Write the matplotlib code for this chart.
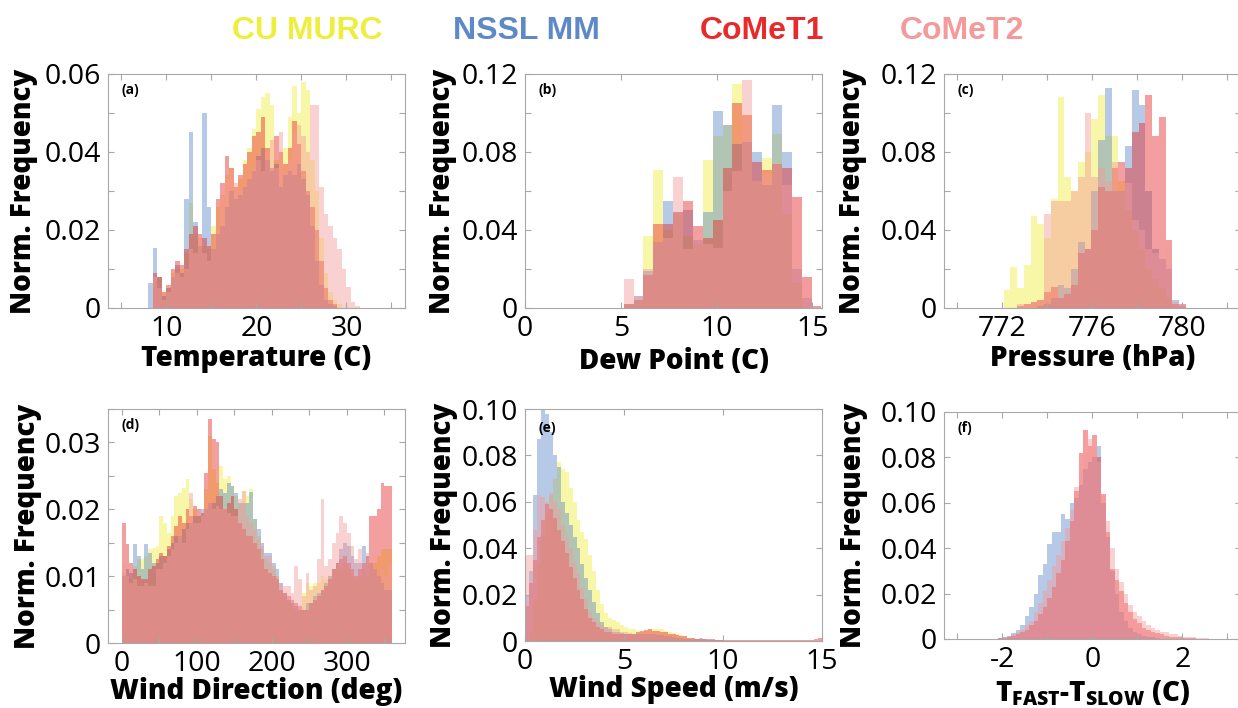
import matplotlib
matplotlib.use('Agg')
import matplotlib.pyplot as plt
import numpy as np

plt.rcParams['font.family'] = ['Open Sans', 'DejaVu Sans']
plt.rcParams['axes.unicode_minus'] = False
plt.rcParams['mathtext.fontset'] = 'custom'
plt.rcParams['mathtext.bf'] = 'Open Sans:heavy'
plt.rcParams['mathtext.rm'] = 'Open Sans'

# series names and colours
names = ['CU MURC', 'NSSL MM', 'CoMeT1', 'CoMeT2']
colors = ['#eeee3c', '#5e88c8', '#e82a2a', '#f49a9a']

# (a) temperature, 0.5 C bins starting at 8.0
temp_start, temp_w = 8.0, 0.5
temp_cu = [0.000, 0.007, 0.008, 0.004, 0.005, 0.009, 0.010, 0.010,
           0.014, 0.027, 0.019, 0.018, 0.016, 0.015, 0.021, 0.026,
           0.029, 0.034, 0.036, 0.031, 0.033, 0.038, 0.041, 0.046,
           0.051, 0.054, 0.055, 0.052, 0.038, 0.040, 0.041, 0.049,
           0.057, 0.050, 0.058, 0.056, 0.038, 0.030, 0.018, 0.009,
           0.004, 0.002, 0.001, 0, 0, 0, 0, 0]
temp_nssl = [0.0063, 0.0153, 0.008, 0.003, 0.005, 0.008, 0.011, 0.009,
             0.028, 0.045, 0.022, 0.016, 0.050, 0.026, 0.015, 0.019,
             0.021, 0.026, 0.030, 0.028, 0.029, 0.031, 0.033, 0.035,
             0.039, 0.041, 0.038, 0.035, 0.037, 0.031, 0.034, 0.035,
             0.034, 0.037, 0.033, 0.029, 0.021, 0.012, 0.006, 0.002,
             0.001, 0.0005, 0, 0, 0, 0, 0, 0]
temp_c1 = [0.000, 0.009, 0.008, 0.004, 0.006, 0.010, 0.012, 0.011,
           0.015, 0.019, 0.021, 0.019, 0.018, 0.016, 0.019, 0.028,
           0.032, 0.039, 0.036, 0.031, 0.034, 0.037, 0.040, 0.044,
           0.045, 0.049, 0.041, 0.036, 0.044, 0.040, 0.037, 0.041,
           0.048, 0.042, 0.035, 0.030, 0.026, 0.020, 0.012, 0.005,
           0.002, 0.001, 0, 0, 0, 0, 0, 0]
temp_c2 = [0.000, 0.008, 0.005, 0.002, 0.004, 0.008, 0.009, 0.008,
           0.010, 0.015, 0.014, 0.018, 0.014, 0.012, 0.015, 0.020,
           0.029, 0.033, 0.035, 0.032, 0.030, 0.031, 0.033, 0.036,
           0.038, 0.035, 0.040, 0.043, 0.036, 0.045, 0.035, 0.038,
           0.045, 0.047, 0.044, 0.040, 0.052, 0.052, 0.031, 0.024,
           0.021, 0.018, 0.015, 0.010, 0.0055, 0.0015, 0.0005, 0]

# (b) dew point
dew_start, dew_w = 5.15, 0.516
dew_cu = [0.002, 0.004, 0.037, 0.071, 0.040, 0.048, 0.037, 0.033, 0.076, 0.088,
          0.094, 0.115, 0.099, 0.065, 0.077, 0.089, 0.048, 0.013, 0, 0]
dew_nssl = [0.002, 0.006, 0.019, 0.034, 0.055, 0.049, 0.050, 0.035, 0.049, 0.101,
            0.094, 0.084, 0.085, 0.080, 0.063, 0.104, 0.080, 0.020, 0.005, 0]
dew_c1 = [0.002, 0.004, 0.017, 0.043, 0.043, 0.049, 0.055, 0.042, 0.036, 0.045,
          0.072, 0.105, 0.099, 0.075, 0.071, 0.074, 0.072, 0.057, 0.016, 0.001]
dew_c2 = [0.015, 0.006, 0.020, 0.034, 0.036, 0.067, 0.030, 0.035, 0.033, 0.031,
          0.060, 0.070, 0.117, 0.065, 0.068, 0.074, 0.063, 0.057, 0.016, 0.001]

# (c) pressure
pres_start, pres_w = 771.75, 0.3
pres_cu = [0, 0.009, 0.021, 0.010, 0.022, 0.047, 0.043, 0.036, 0.056, 0.108,
           0.067, 0.060, 0.075, 0.080, 0.097, 0.109, 0.088, 0.088, 0.065, 0.050,
           0.040, 0.030, 0.020, 0.015, 0.010, 0.005, 0, 0]
pres_nssl = [0, 0, 0, 0, 0, 0, 0.001, 0.002, 0.005, 0.012,
             0.010, 0.020, 0.034, 0.030, 0.060, 0.086, 0.113, 0.060, 0.060, 0.083,
             0.112, 0.104, 0.060, 0.030, 0.025, 0.020, 0.004, 0.001]
pres_c1 = [0, 0, 0, 0.001, 0.002, 0.003, 0.004, 0.008, 0.011, 0.005,
           0.007, 0.012, 0.028, 0.030, 0.040, 0.062, 0.060, 0.072, 0.075, 0.072,
           0.090, 0.095, 0.109, 0.088, 0.098, 0.035, 0.002, 0.002]
pres_c2 = [0, 0, 0, 0.002, 0.002, 0.003, 0.004, 0.048, 0.055, 0.055,
           0.055, 0.060, 0.067, 0.100, 0.067, 0.072, 0.065, 0.075, 0.060, 0.064,
           0.045, 0.040, 0.030, 0.028, 0.025, 0.030, 0.003, 0.001]

# (d) wind direction, 5 deg bins
wdir_start, wdir_w = 0.0, 5.0
wdir_cu = [0.0105, 0.010, 0.0095, 0.0115, 0.0125, 0.0125, 0.013, 0.014, 0.0142,
           0.0145, 0.019, 0.018, 0.0165, 0.019, 0.022, 0.0225, 0.0232, 0.0245,
           0.0215, 0.020, 0.019, 0.019, 0.023, 0.031, 0.026, 0.024, 0.0265,
           0.0245, 0.025, 0.0235, 0.022, 0.021, 0.0228, 0.022, 0.023, 0.0185,
           0.016, 0.014, 0.0125, 0.012, 0.011, 0.010, 0.008, 0.007, 0.006,
           0.0055, 0.005, 0.005, 0.0075, 0.009, 0.0085, 0.009, 0.009, 0.010,
           0.0095, 0.010, 0.011, 0.012, 0.011, 0.012, 0.011, 0.010, 0.0095,
           0.010, 0.011, 0.010, 0.012, 0.012, 0.013, 0.014, 0.014, 0.014]
wdir_nssl = [0.010, 0.011, 0.0105, 0.0148, 0.013, 0.011, 0.0148, 0.0135, 0.012,
             0.012, 0.013, 0.013, 0.014, 0.015, 0.016, 0.016, 0.017, 0.018,
             0.018, 0.019, 0.019, 0.020, 0.020, 0.021, 0.021, 0.022, 0.023,
             0.0225, 0.024, 0.0235, 0.0225, 0.021, 0.021, 0.021, 0.0226, 0.0185,
             0.017, 0.015, 0.0135, 0.0135, 0.012, 0.011, 0.009, 0.0075, 0.0065,
             0.006, 0.0055, 0.005, 0.005, 0.006, 0.006, 0.007, 0.0075, 0.008,
             0.009, 0.010, 0.011, 0.012, 0.014, 0.015, 0.0145, 0.013, 0.012,
             0.012, 0.0145, 0.013, 0.012, 0.011, 0.010, 0.009, 0.008, 0.008]
wdir_c1 = [0.018, 0.0148, 0.012, 0.011, 0.010, 0.0095, 0.0095, 0.011, 0.0115,
           0.0125, 0.0135, 0.013, 0.0145, 0.016, 0.0175, 0.019, 0.018, 0.020,
           0.019, 0.0205, 0.020, 0.0195, 0.0255, 0.0335, 0.0305, 0.030, 0.022,
           0.020, 0.021, 0.022, 0.020, 0.018, 0.017, 0.016, 0.016, 0.015,
           0.014, 0.0125, 0.011, 0.0105, 0.010, 0.0095, 0.008, 0.0075, 0.007,
           0.0065, 0.006, 0.0055, 0.005, 0.005, 0.006, 0.0065, 0.007, 0.008,
           0.0085, 0.0095, 0.011, 0.012, 0.0125, 0.013, 0.012, 0.011, 0.010,
           0.011, 0.012, 0.013, 0.019, 0.019, 0.020, 0.024, 0.0235, 0.0235]
wdir_c2 = [0.012, 0.010, 0.009, 0.0095, 0.0085, 0.0085, 0.009, 0.0085, 0.0085,
           0.011, 0.011, 0.012, 0.013, 0.014, 0.015, 0.016, 0.015, 0.017,
           0.0225, 0.018, 0.018, 0.019, 0.020, 0.021, 0.020, 0.0205, 0.020,
           0.020, 0.0195, 0.019, 0.019, 0.0215, 0.0228, 0.019, 0.018, 0.017,
           0.0155, 0.0145, 0.013, 0.013, 0.0115, 0.010, 0.009, 0.0085, 0.0085,
           0.0075, 0.0115, 0.0095, 0.007, 0.0105, 0.008, 0.0085, 0.0125, 0.0215,
           0.0115, 0.0125, 0.015, 0.0165, 0.019, 0.018, 0.0165, 0.0145, 0.0125,
           0.014, 0.012, 0.0135, 0.012, 0.011, 0.010, 0.011, 0.010, 0.012]

# (e) wind speed, 0.2 m/s bins
wspd_start, wspd_w = 0.0, 0.2
wspd_cu = [0.000, 0.004, 0.018, 0.033, 0.045, 0.055, 0.063, 0.070, 0.077, 0.074,
           0.073, 0.066, 0.060, 0.052, 0.047, 0.044, 0.037, 0.030, 0.022, 0.016,
           0.012, 0.010, 0.009, 0.008, 0.007, 0.006, 0.005, 0.005, 0.0045, 0.004,
           0.0045, 0.005, 0.005, 0.005, 0.005, 0.0045, 0.004, 0.0035, 0.003, 0.0025,
           0.002, 0.0015, 0.0012, 0.001, 0.0008, 0.0006, 0.0005, 0.0004, 0.0003, 0.0003]
wspd_nssl = [0.020, 0.030, 0.063, 0.087, 0.100, 0.098, 0.090, 0.080, 0.075, 0.060,
             0.055, 0.050, 0.045, 0.040, 0.033, 0.027, 0.022, 0.017, 0.012, 0.008,
             0.006, 0.005, 0.004, 0.004, 0.0035, 0.003, 0.003, 0.003, 0.003, 0.003,
             0.003, 0.003, 0.003, 0.0028, 0.0025, 0.0022, 0.002, 0.0018, 0.0015, 0.0012,
             0.001, 0.001, 0.0008, 0.0008, 0.0012, 0.0010, 0.0006, 0.0005, 0.0004, 0.0003]
wspd_c1 = [0.015, 0.025, 0.035, 0.045, 0.052, 0.059, 0.057, 0.053, 0.048, 0.043,
           0.038, 0.032, 0.027, 0.022, 0.018, 0.014, 0.010, 0.008, 0.006, 0.005,
           0.004, 0.004, 0.003, 0.003, 0.003, 0.003, 0.003, 0.0032, 0.0038, 0.0042,
           0.0048, 0.005, 0.0045, 0.0042, 0.004, 0.0038, 0.0032, 0.003, 0.0028, 0.0022,
           0.002, 0.0015, 0.0012, 0.001, 0.001, 0.0009, 0.0008, 0.0007, 0.0006, 0.0006,
           0.0005, 0.0005, 0.0005, 0.0004, 0.0004, 0.0004, 0.0004, 0.0003, 0.0004, 0.0003,
           0.0003, 0.0003, 0.0004, 0.0003, 0.0003, 0.0003, 0.0004, 0.0003, 0.0003, 0.0005,
           0.0004, 0.0005, 0.0006, 0.0009, 0.0012]
wspd_c2 = [0.037, 0.037, 0.048, 0.063, 0.062, 0.060, 0.064, 0.060, 0.057, 0.050,
           0.045, 0.040, 0.034, 0.029, 0.023, 0.018, 0.013, 0.010, 0.008, 0.007,
           0.006, 0.006, 0.005, 0.005, 0.004, 0.004, 0.0035, 0.003, 0.003, 0.003,
           0.003, 0.003, 0.003, 0.003, 0.0028, 0.0025, 0.0022, 0.002, 0.0018, 0.0016,
           0.0014, 0.0012, 0.001, 0.0009, 0.0008, 0.0007, 0.0006, 0.0005, 0.0005, 0.0004]

# (f) T_fast - T_slow, 0.1 C bins (no CU MURC data)
dt_start, dt_w = -2.2, 0.1
dt_cu = []
dt_nssl = [0, 0.0005, 0.001, 0.0015, 0.0025, 0.004, 0.006, 0.010, 0.014, 0.020,
           0.028, 0.033, 0.042, 0.047, 0.047, 0.055, 0.053, 0.060, 0.062, 0.068,
           0.075, 0.078, 0.080, 0.085, 0.060, 0.045, 0.030, 0.020, 0.012, 0.008,
           0.005, 0.003, 0.002, 0.0015, 0.001, 0.0008, 0.0005]
dt_c1 = [0, 0.0003, 0.0005, 0.001, 0.0015, 0.002, 0.003, 0.004, 0.006, 0.008,
         0.011, 0.014, 0.018, 0.023, 0.029, 0.035, 0.043, 0.052, 0.065, 0.082,
         0.092, 0.085, 0.090, 0.080, 0.064, 0.047, 0.031, 0.026, 0.021, 0.016,
         0.012, 0.009, 0.007, 0.005, 0.004, 0.003, 0.0025, 0.002, 0.0015, 0.001,
         0.001, 0.0008, 0.0005, 0.0005, 0.0003]
dt_c2 = [0, 0.0005, 0.001, 0.0015, 0.002, 0.003, 0.004, 0.006, 0.008, 0.012,
         0.016, 0.021, 0.026, 0.032, 0.037, 0.043, 0.049, 0.057, 0.067, 0.075,
         0.083, 0.088, 0.085, 0.078, 0.063, 0.052, 0.040, 0.031, 0.025, 0.020,
         0.015, 0.012, 0.010, 0.008, 0.006, 0.005, 0.004, 0.003, 0.003, 0.002,
         0.002, 0.0015, 0.001, 0.001, 0.0008, 0.0005, 0.0005, 0.0003]

fig = plt.figure(figsize=(12.38, 7.08), dpi=100)

spine_gray = '#a8a8a8'


def fmt(v):
    if abs(v) < 1e-12:
        return '0'
    return ('%.2f' % v) if v < 1 else ('%g' % v)


def panel(rect, start, width, series, xlim, ylim, xticks, xlabels, yticks, ylabels,
          xlabel, tag, ylab_x, xlab_y, tag_y=0.93):
    ax = fig.add_axes(rect)
    for h, c in zip(series, colors):
        if len(h) == 0:
            continue
        edges = start + width * np.arange(len(h))
        ax.bar(edges, h, width=width, align='edge', color=c, alpha=0.45, linewidth=0)
    ax.set_xlim(xlim)
    ax.set_ylim(ylim)
    ax.set_xticks(xticks)
    ax.set_xticklabels([str(t) if t in xlabels else '' for t in xticks])
    ax.set_yticks(yticks)
    ax.set_yticklabels([fmt(t) if any(abs(t - l) < 1e-9 for l in ylabels) else '' for t in yticks])
    ax.tick_params(direction='in', top=True, right=True, length=4, width=0.8,
                   color=spine_gray, labelsize=20.5, pad=5)
    for s in ax.spines.values():
        s.set_color(spine_gray)
        s.set_linewidth(0.8)
    ax.set_xlabel(xlabel, fontsize=20, fontweight='heavy')
    ax.set_ylabel('Norm. Frequency', fontsize=20, fontweight='heavy')
    ax.yaxis.set_label_coords(ylab_x, 0.5)
    ax.xaxis.set_label_coords(0.5, xlab_y)
    ax.text(0.047, tag_y, tag, transform=ax.transAxes, fontsize=10,
            fontweight='bold', va='center', ha='left')
    return ax


W = 0.2399
panel([0.0872, 0.565, W, 0.3305], temp_start, temp_w,
      [temp_cu, temp_nssl, temp_c1, temp_c2], (3.5, 36.5), (0, 0.06),
      [5, 10, 15, 20, 25, 30, 35], [10, 20, 30],
      np.arange(0, 0.0601, 0.01), [0, 0.02, 0.04, 0.06],
      'Temperature (C)', '(a)', -0.235, -0.155)

panel([0.4241, 0.565, W, 0.3305], dew_start, dew_w,
      [dew_cu, dew_nssl, dew_c1, dew_c2], (0, 15.5), (0, 0.12),
      [0, 5, 10, 15], [0, 5, 10, 15],
      np.arange(0, 0.1201, 0.02), [0, 0.04, 0.08, 0.12],
      'Dew Point (C)', '(b)', -0.228, -0.165)

panel([0.7625, 0.565, W, 0.3305], pres_start, pres_w,
      [pres_cu, pres_nssl, pres_c1, pres_c2], (769.4, 782.6), (0, 0.12),
      [770, 772, 774, 776, 778, 780, 782], [772, 776, 780],
      np.arange(0, 0.1201, 0.02), [0, 0.04, 0.08, 0.12],
      'Pressure (hPa)', '(c)', -0.258, -0.155)

panel([0.0872, 0.0918, W, 0.3305], wdir_start, wdir_w,
      [wdir_cu, wdir_nssl, wdir_c1, wdir_c2], (-18.7, 377.3), (0, 0.035),
      [0, 50, 100, 150, 200, 250, 300, 350], [0, 100, 200, 300],
      np.arange(0, 0.0351, 0.005), [0, 0.01, 0.02, 0.03],
      'Wind Direction (deg)', '(d)', -0.222, -0.145)

panel([0.4241, 0.0946, W, 0.3277], wspd_start, wspd_w,
      [wspd_cu, wspd_nssl, wspd_c1, wspd_c2], (0, 15), (0, 0.10),
      [0, 5, 10, 15], [0, 5, 10, 15],
      np.arange(0, 0.1001, 0.02), [0, 0.02, 0.04, 0.06, 0.08, 0.10],
      'Wind Speed (m/s)', '(e)', -0.226, -0.145, tag_y=0.92)

panel([0.7625, 0.0975, W, 0.3206], dt_start, dt_w,
      [dt_cu, dt_nssl, dt_c1, dt_c2], (-3.3, 3.3), (0, 0.10),
      [-3, -2, -1, 0, 1, 2, 3], [-2, 0, 2],
      np.arange(0, 0.1001, 0.02), [0, 0.02, 0.04, 0.06, 0.08, 0.10],
      r'T$_{\mathbf{FAST}}$-T$_{\mathbf{SLOW}}$ (C)', '(f)', -0.256, -0.175)

# colour legend across the top
legend_x = [307, 526, 762, 962]
for name, c, x in zip(names, colors, legend_x):
    fig.text(x / 1238, 1 - 31 / 708, name, color=c, fontsize=23, fontweight='bold',
             family=['Liberation Sans', 'DejaVu Sans'], ha='center', va='center')

fig.savefig('out.png', dpi=100)
